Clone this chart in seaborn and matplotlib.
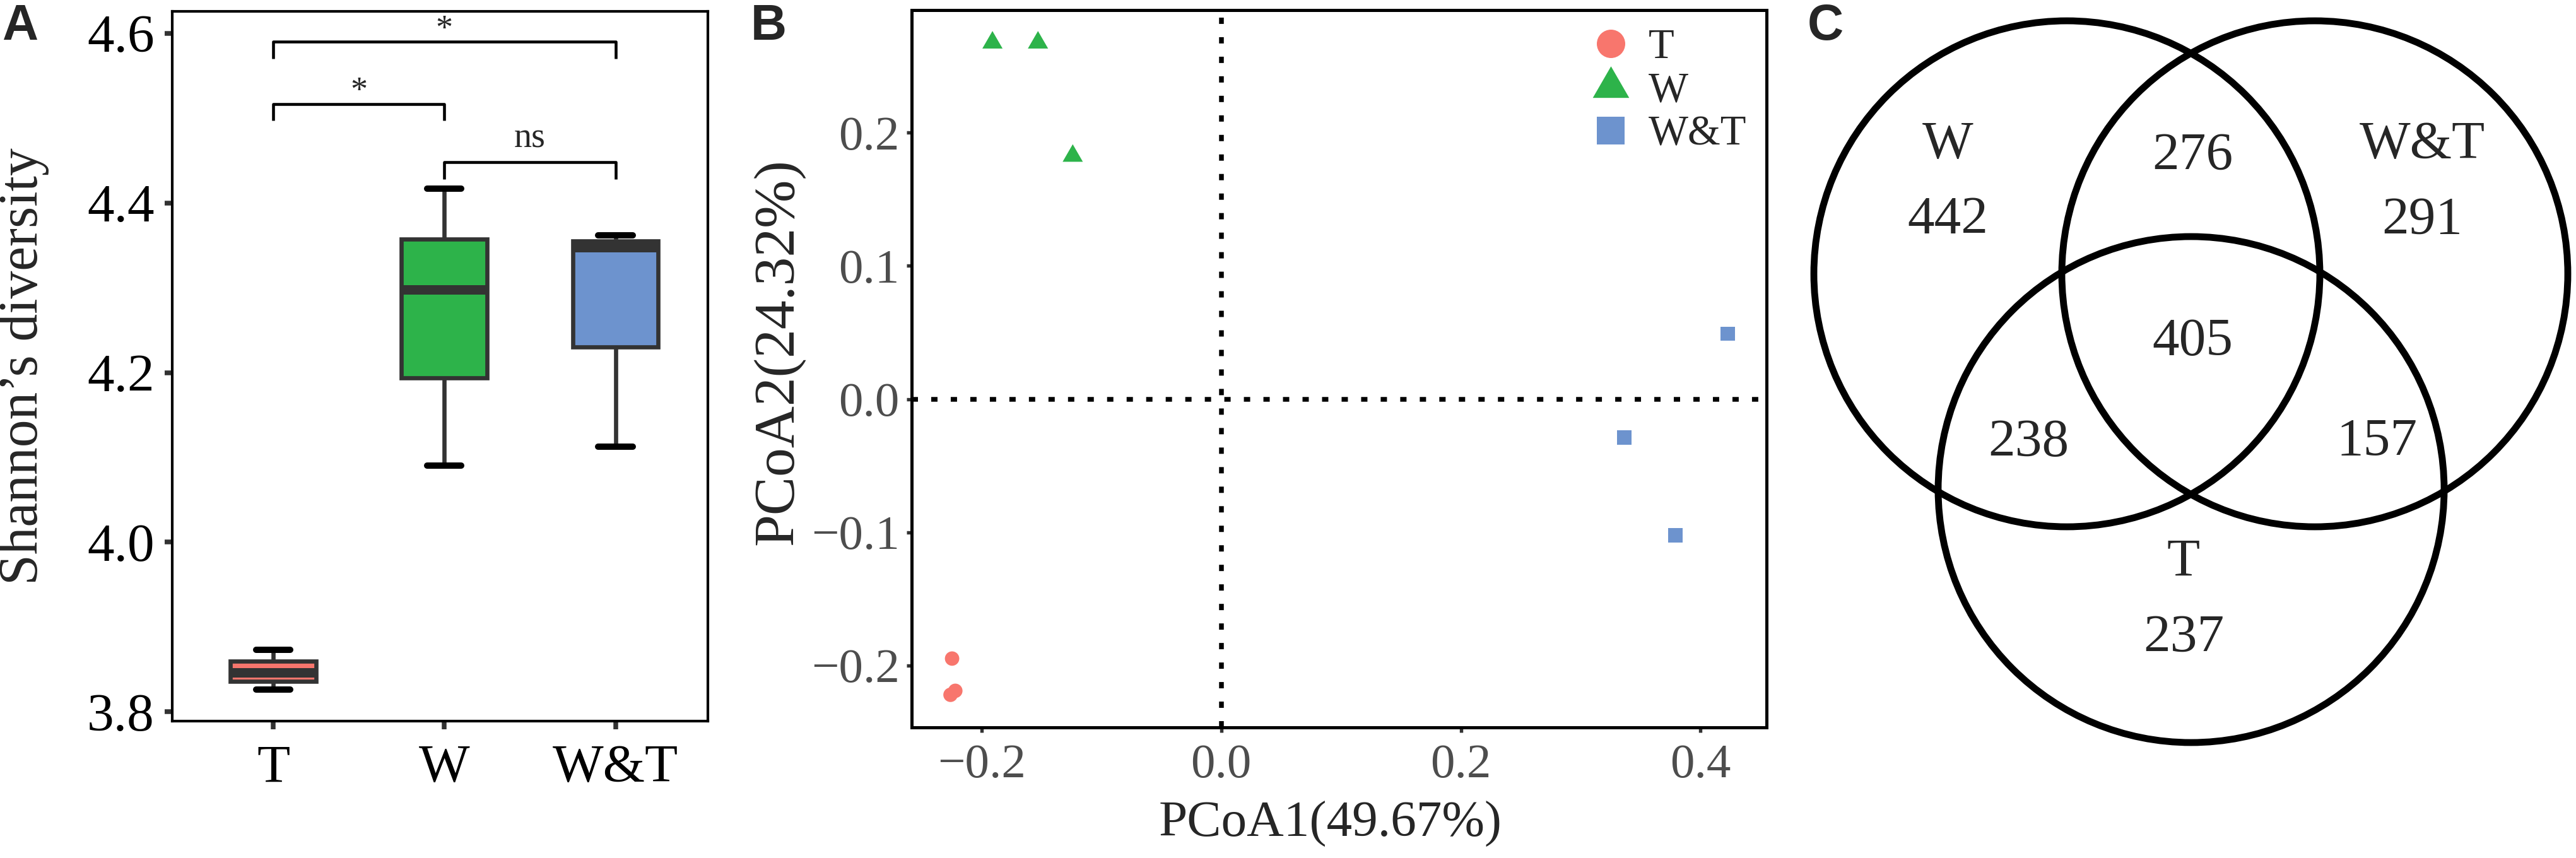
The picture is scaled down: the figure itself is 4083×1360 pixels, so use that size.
import numpy as np
import pandas as pd
import matplotlib
matplotlib.use("Agg")
import matplotlib.pyplot as plt
import seaborn as sns
from matplotlib.lines import Line2D
from matplotlib.patches import Circle
from matplotlib.ticker import FuncFormatter, FixedLocator

# ---------------- data ----------------
groups = ["T", "W", "W&T"]
group_colors = ["#F8766D", "#2DB34A", "#6D93CE"]

# Panel A: Shannon diversity (3 replicates per group)
shannon_T = [3.826, 3.846, 3.873]
shannon_W = [4.090, 4.298, 4.417]
shannon_WT = [4.113, 4.348, 4.362]

sig_pairs = [("T", "W&T"), ("T", "W"), ("W", "W&T")]
sig_labels = ["*", "*", "ns"]
sig_heights = [4.590, 4.517, 4.448]

# Panel B: PCoA coordinates
pcoa1_T = [-0.2247, -0.2220, -0.2260]
pcoa2_T = [-0.1948, -0.2190, -0.2220]
pcoa1_W = [-0.191, -0.153, -0.124]
pcoa2_W = [0.2675, 0.2675, 0.1825]
pcoa1_WT = [0.4226, 0.3365, 0.3790]
pcoa2_WT = [0.0490, -0.0288, -0.1024]
pcoa1_label = "PCoA1(49.67%)"
pcoa2_label = "PCoA2(24.32%)"

# Panel C: Venn counts
venn_set_names = ["W", "W&T", "T"]
venn_only = [442, 291, 237]
venn_W_WT = 276
venn_W_T = 238
venn_WT_T = 157
venn_all = 405

# ---------------- style ----------------
sns.set_style("white")
plt.rcParams["font.family"] = ["Liberation Serif", "DejaVu Serif"]
plt.rcParams["axes.unicode_minus"] = True

W_PX, H_PX, DPI = 4083, 1360, 300
fig = plt.figure(figsize=(W_PX / DPI, H_PX / DPI), dpi=DPI)


def frac_rect(left, top, right, bottom):
    return [left / W_PX, 1 - bottom / H_PX, (right - left) / W_PX, (bottom - top) / H_PX]


# ---------------- Panel A ----------------
axA = fig.add_axes(frac_rect(273, 18, 1122, 1143))
df_box = pd.DataFrame({
    "group": np.repeat(groups, 3),
    "shannon": shannon_T + shannon_W + shannon_WT,
})
sns.boxplot(
    data=df_box, x="group", y="shannon", hue="group",
    order=groups, hue_order=groups,
    palette=dict(zip(groups, group_colors)), saturation=1,
    width=0.5, linecolor="#333333", linewidth=1.6, legend=False, ax=axA,
    medianprops=dict(linewidth=3.6, color="#333333"),
    capprops=dict(color="black", linewidth=2.4),
    capwidths=0.2,
)
pos = {g: i for i, g in enumerate(groups)}
for (g1, g2), lab, h in zip(sig_pairs, sig_labels, sig_heights):
    x1, x2 = pos[g1], pos[g2]
    axA.plot([x1, x1, x2, x2], [h - 0.02, h, h, h - 0.02], color="black", lw=1.1,
             solid_capstyle="butt", clip_on=False)
    if lab == "*":
        axA.text((x1 + x2) / 2, h + 0.004, lab, ha="center", va="baseline", fontsize=13)
    else:
        axA.text((x1 + x2) / 2, h + 0.018, lab, ha="center", va="baseline", fontsize=13.5)

axA.set_xlim(-0.59, 2.54)
axA.set_ylim(3.789, 4.626)
axA.yaxis.set_major_locator(FixedLocator([3.8, 4.0, 4.2, 4.4, 4.6]))
axA.yaxis.set_major_formatter(FuncFormatter(lambda v, p: f"{v:.1f}"))
axA.set_xlabel("")
axA.set_ylabel("Shannon\u2019s diversity", fontsize=21, va="center")
axA.yaxis.set_label_coords(-0.277, 0.5)
axA.tick_params(axis="both", which="major", length=3, width=1.8, color="#333333",
                labelsize=20.5, labelcolor="black", bottom=True, left=True)
axA.tick_params(axis="x", pad=6)
axA.tick_params(axis="y", pad=3.8)
for sp in axA.spines.values():
    sp.set_visible(True)
    sp.set_color("black")
    sp.set_linewidth(1.0)

# ---------------- Panel B ----------------
axB = fig.add_axes(frac_rect(1445, 16, 2800, 1153))
tri = [(0, 1), (-0.866, -0.5), (0.866, -0.5), (0, 1)]
axB.axhline(0, color="black", lw=1.8, ls=(0, (1.33, 2.8)), zorder=0)
axB.axvline(0, color="black", lw=1.8, ls=(0, (1.33, 2.8)), zorder=0)
point_sets = [
    (pcoa1_T, pcoa2_T, group_colors[0], "o", 30),
    (pcoa1_W, pcoa2_W, group_colors[1], tri, 79),
    (pcoa1_WT, pcoa2_WT, group_colors[2], "s", 30),
]
for xs, ys, c, m, s in point_sets:
    sns.scatterplot(x=xs, y=ys, color=c, marker=m, s=s, linewidth=0, edgecolor="none",
                    ax=axB, legend=False, zorder=3)

all_x = pcoa1_T + pcoa1_W + pcoa1_WT
all_y = pcoa2_T + pcoa2_W + pcoa2_WT
rx = max(all_x) - min(all_x)
ry = max(all_y) - min(all_y)
axB.set_xlim(min(all_x) - 0.05 * rx, max(all_x) + 0.05 * rx)
axB.set_ylim(min(all_y) - 0.05 * ry, max(all_y) + 0.05 * ry)
axB.xaxis.set_major_locator(FixedLocator([-0.2, 0.0, 0.2, 0.4]))
axB.yaxis.set_major_locator(FixedLocator([-0.2, -0.1, 0.0, 0.1, 0.2]))
fmt = FuncFormatter(lambda v, p: f"{v:.1f}".replace("-", "\u2212"))
axB.xaxis.set_major_formatter(fmt)
axB.yaxis.set_major_formatter(fmt)
axB.tick_params(axis="both", which="major", length=2, width=1.3, color="#333333",
                labelsize=18.5, labelcolor="#4D4D4D", bottom=True, left=True)
axB.tick_params(axis="x", pad=4.3)
axB.tick_params(axis="y", pad=2.6)
axB.set_xlabel(pcoa1_label, fontsize=19.5, va="center")
axB.xaxis.set_label_coords(0.49, -0.1346)
axB.set_ylabel(pcoa2_label, fontsize=22, va="center")
axB.yaxis.set_label_coords(-0.156, 0.524)
for sp in axB.spines.values():
    sp.set_visible(True)
    sp.set_color("black")
    sp.set_linewidth(1.2)

handles = [
    Line2D([], [], ls="none", marker="o", ms=10.8, color=group_colors[0], mew=0),
    Line2D([], [], ls="none", marker=tri, ms=16, color=group_colors[1], mew=0),
    Line2D([], [], ls="none", marker="s", ms=10.6, color=group_colors[2], mew=0),
]
axB.legend(handles, groups, loc="upper left", bbox_to_anchor=(0.7934, 0.9745),
           frameon=False, fontsize=16, handlelength=1.0, handletextpad=0.39,
           borderpad=0, borderaxespad=0, labelspacing=0.12)

# ---------------- Panel C (Venn) + panel letters ----------------
axO = fig.add_axes([0, 0, 1, 1])
axO.set_xlim(0, W_PX)
axO.set_ylim(H_PX, 0)
axO.axis("off")
axO.patch.set_alpha(0)

venn_centers = [(3276, 434), (3669, 434), (3473, 776)]
venn_radius = 401
for cx, cy in venn_centers:
    axO.add_patch(Circle((cx, cy), venn_radius, fill=False, ec="black", lw=2.6))

venn_texts = [
    (3087, 230, venn_set_names[0]), (3087, 350, str(venn_only[0])),
    (3839, 230, venn_set_names[1]), (3839, 350, str(venn_only[1])),
    (3461, 892, venn_set_names[2]), (3461, 1012, str(venn_only[2])),
    (3475, 248, str(venn_W_WT)),
    (3215, 702, str(venn_W_T)),
    (3768, 702, str(venn_WT_T)),
    (3475, 542, str(venn_all)),
]
for x, y, t in venn_texts:
    axO.text(x, y, t, ha="center", va="center", fontsize=20.5)

for x, t in [(32, "A"), (1218, "B"), (2893, "C")]:
    axO.text(x, 63, t, ha="center", va="baseline", fontsize=19, fontweight="bold",
             family=["Liberation Sans", "DejaVu Sans"])

fig.savefig("out.png", dpi=DPI)
